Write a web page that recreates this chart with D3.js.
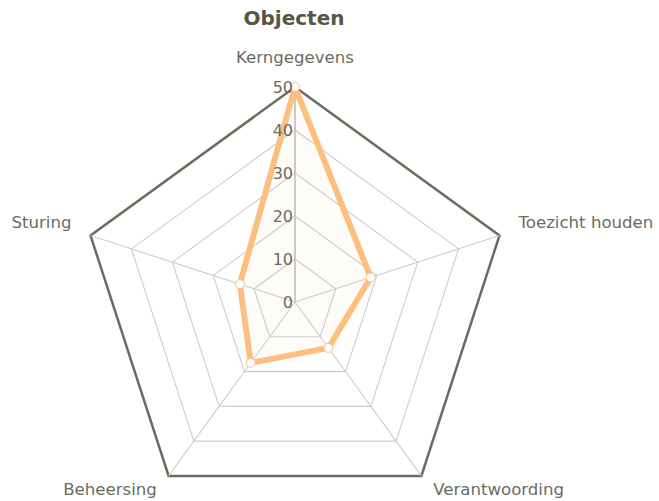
<!DOCTYPE html>
<html>
<head>
<meta charset="utf-8">
<script src="https://cdn.jsdelivr.net/npm/d3@7"></script>
<style>
  body { margin: 0; background: #fff; }
  svg { font-family: "DejaVu Sans", sans-serif; }
</style>
</head>
<body>
<svg id="chart"></svg>
<script>
var categories = ["Kerngegevens", "Toezicht houden", "Verantwoording", "Beheersing", "Sturing"];
var values = [50, 18.5, 13.2, 17.5, 13.5];
var tickValues = [0, 10, 20, 30, 40, 50];

var screen = {width: 659, height: 501};
var center = {x: 295, y: 302};

var svg = d3.select("#chart")
    .attr("width", screen.width)
    .attr("height", screen.height);

var rscale = d3.scaleLinear()
    .domain([0, 50])
    .range([0, 215]);

var angle = function(i) { return i * 2 * Math.PI / categories.length; };

var g = svg.append("g")
    .attr("transform", "translate(" + center.x + "," + center.y + ")");

// title
svg.append("text")
    .attr("x", 294)
    .attr("y", 25)
    .attr("text-anchor", "middle")
    .style("font-size", "20px")
    .style("font-weight", "bold")
    .style("fill", "#555548")
    .text("Objecten");

// rings
var ring = d3.lineRadial()
    .angle(function(d, i) { return angle(i); })
    .radius(function(d) { return rscale(d); })
    .curve(d3.curveLinearClosed);

g.selectAll(".ring")
    .data(tickValues.filter(function(t) { return t > 0; }))
    .enter()
    .append("path")
    .attr("class", "ring")
    .attr("d", function(t) { return ring(categories.map(function() { return t; })); })
    .attr("fill", "none")
    .attr("stroke", function(t) { return t === 50 ? "#6c6c5e" : "#cdcdcd"; })
    .attr("stroke-width", function(t) { return t === 50 ? 2.5 : 1.1; });

// spokes
g.selectAll(".spoke")
    .data(categories)
    .enter()
    .append("line")
    .attr("class", "spoke")
    .attr("x1", 0).attr("y1", 0)
    .attr("x2", function(d, i) { return rscale(50) * Math.sin(angle(i)); })
    .attr("y2", function(d, i) { return -rscale(50) * Math.cos(angle(i)); })
    .attr("stroke", function(d, i) { return i === 0 ? "#c4c4c4" : "#cdcdcd"; })
    .attr("stroke-width", function(d, i) { return i === 0 ? 1.8 : 1.1; });

// series
var area = d3.lineRadial()
    .angle(function(d, i) { return angle(i); })
    .radius(function(d) { return rscale(d); })
    .curve(d3.curveLinearClosed);

g.append("path")
    .attr("d", area(values))
    .attr("fill", "rgba(245,200,150,0.06)")
    .attr("stroke", "#fcbf80")
    .attr("stroke-width", 6)
    .attr("stroke-linejoin", "round");

g.selectAll(".marker")
    .data(values)
    .enter()
    .append("circle")
    .attr("class", "marker")
    .attr("cx", function(d, i) { return rscale(d) * Math.sin(angle(i)); })
    .attr("cy", function(d, i) { return -rscale(d) * Math.cos(angle(i)); })
    .attr("r", 4.5)
    .attr("fill", "#fff")
    .attr("stroke", "#fcbf80")
    .attr("stroke-width", 1);

// tick labels
g.selectAll(".tick")
    .data(tickValues)
    .enter()
    .append("text")
    .attr("class", "tick")
    .attr("x", -2)
    .attr("y", function(t) { return -rscale(t) + 6; })
    .attr("text-anchor", "end")
    .style("font-size", "16px")
    .style("fill", "#6b6b62")
    .text(function(t) { return t; });

// category labels
g.selectAll(".cat")
    .data(categories)
    .enter()
    .append("text")
    .attr("class", "cat")
    .attr("x", function(d, i) { return (rscale(50) + 20) * Math.sin(angle(i)); })
    .attr("y", function(d, i) { return -(rscale(50) + 20) * Math.cos(angle(i)) - 4 * Math.cos(angle(i)); })
    .attr("text-anchor", function(d, i) {
        var s = Math.sin(angle(i));
        return Math.abs(s) < 0.01 ? "middle" : (s > 0 ? "start" : "end");
    })
    .style("font-size", "16.6px")
    .style("fill", "#6b6b62")
    .text(function(d) { return d; });
</script>
</body>
</html>
